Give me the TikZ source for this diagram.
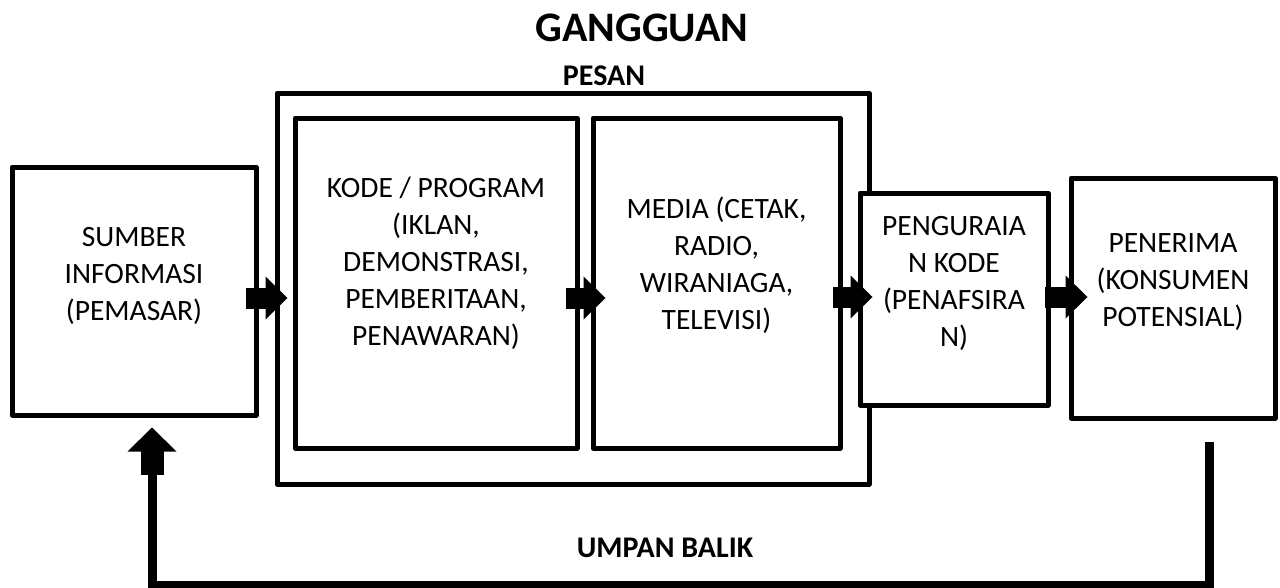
\documentclass[tikz,border=0pt]{standalone}
\usepackage{fontspec}
\setmainfont{Carlito}
\usetikzlibrary{arrows.meta,calc}

\begin{document}
\begin{tikzpicture}[x=1pt,y=-1pt,
    kotak/.style={draw,rectangle,fill=white,line width=5pt,line join=round},
    teks/.style={align=center,font=\fontsize{29.5}{37}\selectfont},
    judul/.style={font=\bfseries\fontsize{30}{36}\selectfont},
    panah/.style={line width=21pt,line cap=rect,-{Triangle[length=22pt,width=43pt,line width=0pt]}},
    panahbalik/.style={line width=23pt,line cap=rect,-{Triangle[length=24pt,width=49pt,line width=0pt]}}]
  \useasboundingbox (0,0) rectangle (1280,587);
        \node[kotak,minimum width=592pt,minimum height=391pt] (pesan) at (573,288.5) {};
        \node[kotak,minimum width=244pt,minimum height=248pt] (sumber) at (134,291) {};
         \node[kotak,minimum width=282pt,minimum height=330pt,right of=sumber,node distance=302pt,yshift=8pt] (kode) {};
         \node[kotak,minimum width=247pt,minimum height=330pt,right of=kode,node distance=280.5pt] (media) {};
         \node[kotak,minimum width=188pt,minimum height=212pt,right of=media,node distance=237.5pt,yshift=-16pt] (urai) {};
         \node[kotak,minimum width=204pt,minimum height=240pt,right of=urai,node distance=219pt,yshift=1pt] (terima) {};
        % isi kotak
        \node[teks] (sumber-t) at ([yshift=15pt]sumber.center) {SUMBER\\INFORMASI\\(PEMASAR)};
        \node[teks] (kode-t) at ([yshift=20pt]kode.center) {KODE / PROGRAM\\(IKLAN,\\DEMONSTRASI,\\PEMBERITAAN,\\PENAWARAN)};
        \node[teks] (media-t) at ([yshift=18pt]media.center) {MEDIA (CETAK,\\RADIO,\\WIRANIAGA,\\TELEVISI)};
        \node[teks] (urai-t) at ([yshift=16pt]urai.center) {PENGURAIA\\N KODE\\(PENAFSIRA\\N)};
        \node[teks] (terima-t) at ([yshift=16pt]terima.center) {PENERIMA\\(KONSUMEN\\POTENSIAL)};
        % judul
        \node[judul,font=\bfseries\fontsize{42}{48}\selectfont] (gangguan) at (642,28) {GANGGUAN};
        \node[judul] (pesan-t) at (604,76) {PESAN};
        \node[judul] (balik-t) at (665,548) {UMPAN BALIK};
        % panah
        \draw[panah] ($(sumber.east)+(-2.5,7)$) -- ($(kode.west)+(-5,15)$);
        \draw[panah] ($(kode.east)+(-3.5,15)$) -- ($(media.west)+(15,15)$);
        \draw[panah] ($(media.east)+(0.5,14)$) -- ($(urai.west)+(15,-2)$);
        \draw[panah] ($(urai.east)+(4.5,-2)$) -- ($(terima.west)+(19,-1)$);
        % umpan balik
     \coordinate (b1) at ($(terima.south)+(36,21)$);
     \coordinate (b2) at ($(sumber.south)+(18,57)$);
     \draw[line width=9pt] (b1) -- ++(0,144) -| (b2);
     \draw[panahbalik] ($(b2)+(0,-11.5)$) -- ($(sumber.south)+(18,10)$);
      \end{tikzpicture}
\end{document}
